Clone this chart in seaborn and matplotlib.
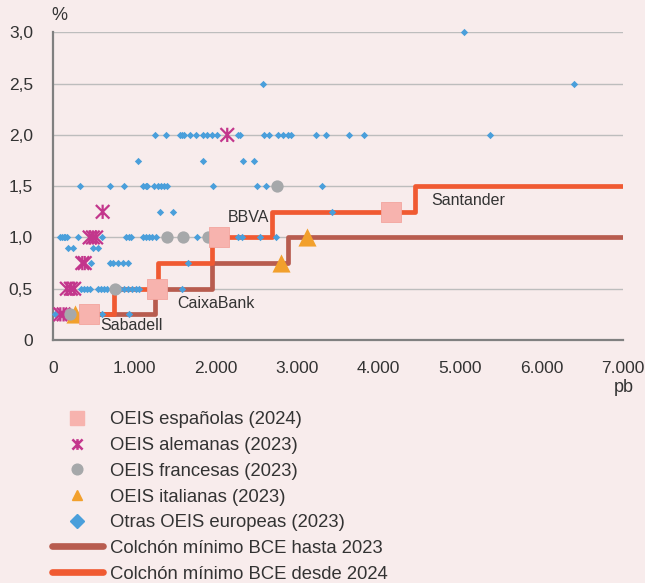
import numpy as np
import pandas as pd
import matplotlib
matplotlib.use("Agg")
import matplotlib.pyplot as plt
from matplotlib.path import Path
from matplotlib.lines import Line2D
import seaborn as sns

# ---------------- data ----------------
# Spanish (2024)
esp_x = [442, 1274, 2039, 4152]
esp_y = [0.25, 0.5, 1.0, 1.25]
esp_names = ["Sabadell", "CaixaBank", "BBVA", "Santander"]

# German (2023)
ale_x = [90, 130, 170, 220, 260, 360, 390, 450, 490, 530, 610, 2141]
ale_y = [0.25, 0.25, 0.5, 0.5, 0.5, 0.75, 0.75, 1.0, 1.0, 1.0, 1.25, 2.0]

# French (2023)
fra_x = [209, 762, 1397, 1601, 1908, 2756]
fra_y = [0.25, 0.5, 1.0, 1.0, 1.0, 1.5]

# Italian (2023)
ita_x = [270, 2801, 3117]
ita_y = [0.25, 0.75, 1.0]

# Other European (2023), x values grouped by buffer level
otr_300 = [5045]
otr_250 = [2576, 6400]
otr_200 = [1253, 1385, 1560, 1590, 1610, 1683, 1753, 1847, 1896, 1957, 2011,
           2269, 2297, 2596, 2658, 2761, 2822, 2891, 2924, 3231, 3358, 3633,
           3824, 5369]
otr_175 = [1048, 1847, 2338, 2469]
otr_150 = [328, 700, 872, 1110, 1139, 1158, 1245, 1286, 1327, 1368, 1404,
           1969, 2502, 2613, 3301]
otr_125 = [1315, 1470, 3432]
otr_100 = [90, 110, 130, 150, 170, 311, 470, 606, 900, 930, 960, 1100, 1140,
           1180, 1220, 1260, 1765, 2277, 2318, 2543, 2736]
otr_090 = [188, 250, 495, 556]
otr_075 = [470, 700, 740, 800, 860, 925, 1662]
otr_050 = [340, 380, 420, 460, 550, 590, 630, 660, 820, 870, 920, 970, 1020,
           1060, 1581]
otr_025 = [25, 598, 937]
otr_levels = [3.0, 2.5, 2.0, 1.75, 1.5, 1.25, 1.0, 0.9, 0.75, 0.5, 0.25]
otr_groups = [otr_300, otr_250, otr_200, otr_175, otr_150, otr_125, otr_100,
              otr_090, otr_075, otr_050, otr_025]

# ECB minimum buffer steps
bce23_x = [400, 1253, 1950, 2890, 7000]
bce23_y = [0.25, 0.5, 0.75, 1.0, 1.0]
bce24_x = [400, 750, 1290, 1950, 2690, 4450, 7000]
bce24_y = [0.25, 0.5, 0.75, 1.0, 1.25, 1.5, 1.5]

xticks = [0, 1000, 2000, 3000, 4000, 5000, 6000, 7000]
xtick_labels = ["0", "1.000", "2.000", "3.000", "4.000", "5.000", "6.000", "7.000"]
yticks = [0, 0.5, 1.0, 1.5, 2.0, 2.5, 3.0]
ytick_labels = ["0", "0,5", "1,0", "1,5", "2,0", "2,5", "3,0"]

labels = ["OEIS españolas (2024)", "OEIS alemanas (2023)", "OEIS francesas (2023)",
          "OEIS italianas (2023)", "Otras OEIS europeas (2023)",
          "Colchón mínimo BCE hasta 2023", "Colchón mínimo BCE desde 2024"]

otr_df = pd.DataFrame({
    "x": [v for g in otr_groups for v in g],
    "y": [lvl for g, lvl in zip(otr_groups, otr_levels) for _ in g],
})

# ---------------- style ----------------
BG = "#F8ECEC"
C_ESP = "#F7B3AE"
C_ALE = "#C3368C"
C_FRA = "#A6A8AA"
C_ITA = "#F2A02C"
C_OTR = "#4A9FDB"
C_B23 = "#B85C4F"
C_B24 = "#F05A32"
AXC = "#808080"
TXT = "#333333"

sns.set_style("white")
plt.rcParams["font.family"] = ["Liberation Sans", "DejaVu Sans"]
plt.rcParams["text.color"] = TXT

fig = plt.figure(figsize=(6.45, 5.83), dpi=100, facecolor=BG)
ax = fig.add_axes([53 / 645, 1 - 340 / 583, (622.7 - 53) / 645, (340 - 32.3) / 583])
ax.set_facecolor(BG)

# gridlines
for yv in yticks[1:]:
    ax.axhline(yv, color="#BDBDBD", lw=1.0, zorder=0)

# step lines
sns.lineplot(x=bce23_x, y=bce23_y, ax=ax, drawstyle="steps-post", color=C_B23,
             lw=3.4, estimator=None, sort=False, zorder=2)
sns.lineplot(x=bce24_x, y=bce24_y, ax=ax, drawstyle="steps-post", color=C_B24,
             lw=3.4, estimator=None, sort=False, zorder=3)

# asterisk marker (X + vertical bar)
star = Path([(-1, -1), (1, 1), (-1, 1), (1, -1), (0, -1.05), (0, 1.05)],
            [Path.MOVETO, Path.LINETO] * 3)

sns.scatterplot(data=otr_df, x="x", y="y", ax=ax, marker="D", s=14, color=C_OTR,
                linewidth=0, zorder=4, clip_on=False)
sns.scatterplot(x=ale_x, y=ale_y, ax=ax, marker=star, s=105, facecolor="none",
                edgecolor=C_ALE, linewidth=1.6, zorder=5, clip_on=False)
sns.scatterplot(x=ita_x, y=ita_y, ax=ax, marker="^", s=170, color=C_ITA,
                linewidth=0, zorder=6, clip_on=False)
sns.scatterplot(x=fra_x, y=fra_y, ax=ax, marker="o", s=78, color=C_FRA,
                linewidth=0, zorder=7, clip_on=False)
sns.scatterplot(x=esp_x, y=esp_y, ax=ax, marker="s", s=200, color=C_ESP,
                edgecolor="#F3A49E", linewidth=0.6, zorder=8, clip_on=False)

# bank labels
label_pos = [(577, 0.14), (1532, 0.36), (2150, 1.19), (4653, 1.36)]
for name, (lx, ly) in zip(esp_names, label_pos):
    ax.text(lx, ly, name, fontsize=11.5, color=TXT, ha="left", va="center", zorder=9)

ax.set_xlim(0, 7000)
ax.set_ylim(0, 3.0)
ax.set_xticks(xticks, xtick_labels)
ax.set_yticks(yticks, ytick_labels)
ax.tick_params(axis="both", direction="in", length=4, width=1.2, color=AXC,
               labelsize=12.5, labelcolor=TXT)
ax.tick_params(axis="x", pad=15)
ax.tick_params(axis="y", pad=14.5)
for s in ["top", "right"]:
    ax.spines[s].set_visible(False)
for s in ["left", "bottom"]:
    ax.spines[s].set_color(AXC)
    ax.spines[s].set_linewidth(1.6)
ax.set_xlabel("")
ax.set_ylabel("")

fig.text(51.5 / 645, 1 - 15 / 583, "%", fontsize=13, ha="left", va="center", color=TXT)
fig.text(634 / 645, 1 - 388 / 583, "pb", fontsize=13, ha="right", va="center", color=TXT)

# legend
handles = [
    Line2D([], [], ls="none", marker="s", ms=9.5, color=C_ESP, mec=C_ESP),
    Line2D([], [], ls="none", marker=star, ms=7.7, color=C_ALE, mew=1.8),
    Line2D([], [], ls="none", marker="o", ms=7.7, color=C_FRA, mec=C_FRA),
    Line2D([], [], ls="none", marker="^", ms=7.7, color=C_ITA, mec=C_ITA),
    Line2D([], [], ls="none", marker="D", ms=6.8, color=C_OTR, mec=C_OTR),
    Line2D([], [], color=C_B23, lw=4.8),
    Line2D([], [], color=C_B24, lw=4.8),
]
leg = fig.legend(handles, labels, loc="upper left",
                 bbox_to_anchor=(51.7 / 645, 1 - 411.5 / 583),
                 bbox_transform=fig.transFigure, frameon=False, fontsize=13.3,
                 handlelength=2.78, handletextpad=0.4, labelspacing=0.47,
                 borderpad=0, borderaxespad=0)
for t in leg.get_texts():
    t.set_color(TXT)

fig.savefig("out.png", dpi=100, facecolor=BG)
